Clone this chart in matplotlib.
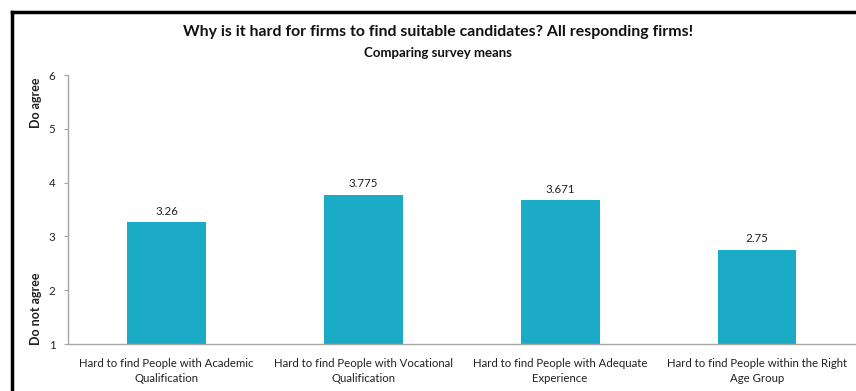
import matplotlib
matplotlib.use("Agg")
import matplotlib.pyplot as plt
from matplotlib.lines import Line2D

categories = [
    "Hard to find People with Academic\nQualification",
    "Hard to find People with Vocational\nQualification",
    "Hard to find People with Adequate\nExperience",
    "Hard to find People within the Right\nAge Group",
]
means = [3.26, 3.775, 3.671, 2.75]
mean_labels = ["3.26", "3.775", "3.671", "2.75"]
y_ticks = [1, 2, 3, 4, 5, 6]

bar_color = "#1BABC6"
axis_color = "#A6A6A6"

plt.rcParams["font.family"] = ["Lato", "DejaVu Sans"]

fig = plt.figure(figsize=(8.56, 3.91), dpi=100)
ax = fig.add_axes([0.0794, 0.1202, 0.92, 0.6878])

x = list(range(len(categories)))
# bars start at the axis floor (1), so height is measured from there
ax.bar(x, [m - 1 for m in means], bottom=1, width=0.4, color=bar_color)
for xi, m, lab in zip(x, means, mean_labels):
    ax.text(xi, m + 0.1, lab, ha="center", va="bottom", fontsize=8.3, color="#222222")

ax.set_xlim(-0.5, 3.5)
ax.set_ylim(1, 6)
ax.set_yticks(y_ticks)
ax.set_yticklabels([str(t) for t in y_ticks], fontsize=8.3, color="#222222")
ax.set_xticks(x)
ax.set_xticklabels(categories, fontsize=8.2, color="#222222", linespacing=1.45)
ax.tick_params(axis="x", length=0, pad=10)
ax.tick_params(axis="y", length=3, color=axis_color, pad=6)

for side in ["top", "right"]:
    ax.spines[side].set_visible(False)
for side in ["left", "bottom"]:
    ax.spines[side].set_color(axis_color)
    ax.spines[side].set_linewidth(1.0)

# rotated end-of-scale labels on the y axis
fig.text(0.042, 0.803, "Do agree", rotation=90, ha="center", va="top",
         fontsize=9, fontweight="bold", color="#222222")
fig.text(0.042, 0.118, "Do not agree", rotation=90, ha="center", va="bottom",
         fontsize=9, fontweight="bold", color="#222222")

fig.text(0.512, 0.918, "Why is it hard for firms to find suitable candidates? All responding firms!",
         ha="center", va="center", fontsize=11.4, fontweight="bold", color="#111111")
fig.text(0.512, 0.864, "Comparing survey means", ha="center", va="center",
         fontsize=9.5, fontweight="bold", color="#111111")

# black frame around the slide area
fig.add_artist(Line2D([0.0135, 1.0], [0.9705, 0.9705], color="black", lw=2.5,
                      transform=fig.transFigure))
fig.add_artist(Line2D([0.0135, 0.0135], [0.0, 0.9705], color="black", lw=2.5,
                      transform=fig.transFigure))

fig.savefig("out.png", dpi=100)
